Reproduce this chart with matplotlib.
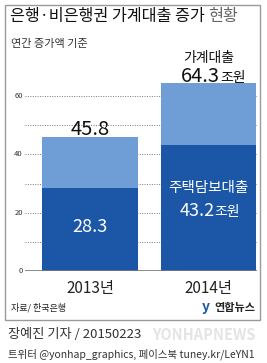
import matplotlib
matplotlib.use("Agg")
import matplotlib.pyplot as plt
from matplotlib.patches import Rectangle

plt.rcParams['font.family'] = ['Noto Sans CJK KR', 'DejaVu Sans']

# data
years = ['2013년', '2014년']
mortgage = [28.3, 43.2]
total = [45.8, 64.3]
other = [t - m for t, m in zip(total, mortgage)]
yticks = [0, 20, 40, 60]
grid_levels = [10, 20, 30, 40, 50, 60]

dark = '#1c57a7'
light = '#6f9ed7'

W, H = 267, 363
fig = plt.figure(figsize=(W / 100, H / 100), dpi=100)

def fx(px):
    return px / W

def fy(py):
    return 1 - py / H

# frame box
fig.patches.append(Rectangle((fx(5), fy(320)), fx(255), 315 / H, transform=fig.transFigure,
                             fill=False, edgecolor='#9a9a9a', linewidth=1.0))

# axes: zero line at y=271px, 60 at y=96px
y0, y60 = 271, 96
ppu = (y0 - y60) / 60
top_px = 40
ax = fig.add_axes([fx(25), fy(y0), fx(232), (y0 - top_px) / H])
ax.set_ylim(0, (y0 - top_px) / ppu)
ax.set_xlim(-0.552, 1.41)

for lv in grid_levels:
    ax.axhline(lv, color='#777777', linewidth=0.7, linestyle=(0, (1, 1.5)), zorder=0)
ax.axhline(0, color='#777777', linewidth=1.2, zorder=3)

x = [0, 1]
ax.bar(x, mortgage, width=0.81, color=dark, zorder=2)
ax.bar(x, other, bottom=mortgage, width=0.81, color=light, zorder=2)

for s in ax.spines.values():
    s.set_visible(False)
ax.set_xticks([])
ax.set_yticks([])
for t in yticks:
    ax.text(-0.57, t, str(t), ha='right', va='center', fontsize=5.5, color='#333333')

# labels
ax.text(0, total[0] + 0.8, f'{total[0]}', ha='center', va='baseline', fontsize=14.5, color='#111111')
ax.text(0, 15.1, f'{mortgage[0]}', ha='center', va='center', fontsize=13, color='white')
ax.text(1, 71.5, '가계대출', ha='center', va='baseline', fontsize=10, color='#111111')
ax.text(1.1, total[1] + 0.5, f'{total[1]}', ha='right', va='baseline', fontsize=14.5, color='#111111')
ax.text(1.1, total[1] + 0.5, '조원', ha='left', va='baseline', fontsize=10, color='#111111')
ax.text(1, 28.4, '주택담보대출', ha='center', va='center', fontsize=10.5, color='white')
ax.text(1.05, 18.9, f'{mortgage[1]}', ha='right', va='baseline', fontsize=13, color='white')
ax.text(1.05, 18.9, '조원', ha='left', va='baseline', fontsize=10, color='white')

for xi, lab in zip(x, years):
    ax.text(xi, -3.2, lab, ha='center', va='top', fontsize=11, color='#222222')

# titles
t1 = fig.text(fx(10), fy(17), '은행·비은행권 가계대출 증가 ', ha='left', va='center',
              fontsize=11.7, color='#111111')
fig.canvas.draw()
bb = t1.get_window_extent()
fig.text(bb.x1 / W, fy(17), '현황', ha='left', va='center', fontsize=11.7, color='#666666')
fig.text(fx(11), fy(44), '연간 증가액 기준', ha='left', va='center', fontsize=8, color='#333333')

# source and logo
fig.text(fx(11), fy(308), '자료/ 한국은행', ha='left', va='center', fontsize=6.5,
         style='italic', color='#222222')
fig.text(fx(255), fy(307), '연합뉴스', ha='right', va='center', fontsize=8,
         weight='bold', color='#222222')
fig.text(fx(206), fy(307), 'y', ha='center', va='center', fontsize=10, weight='bold',
         color=dark)

# footer
fig.text(fx(256), fy(335), 'YONHAPNEWS', ha='right', va='center', fontsize=10.5, weight='bold',
         color='#e4e4e4', zorder=0)
fig.text(fx(8), fy(335), '장예진 기자 / 20150223', ha='left', va='center', fontsize=9.5, color='#333333')
fig.text(fx(8), fy(354), '트위터 @yonhap_graphics, 페이스북 tuney.kr/LeYN1', ha='left', va='center',
         fontsize=7.5, color='#333333')

fig.savefig('out.png', dpi=100)
